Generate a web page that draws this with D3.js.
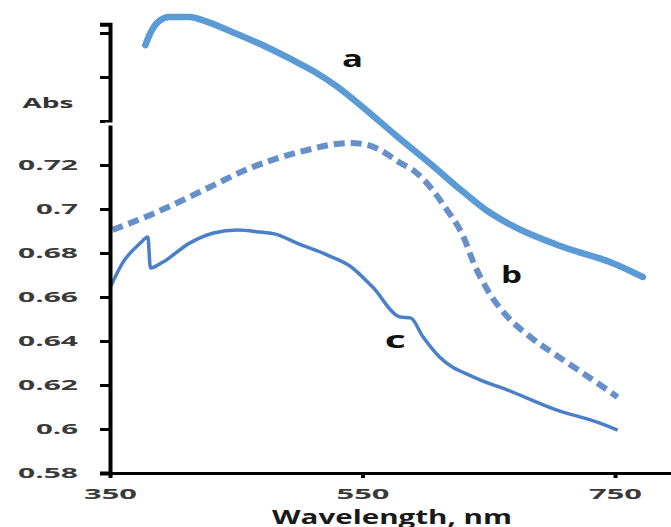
<!DOCTYPE html>
<html>
<head>
<meta charset="utf-8">
<script src="https://cdn.jsdelivr.net/npm/d3@7"></script>
<style>
  body { margin: 0; background: #fff; }
  svg { display: block; }
</style>
</head>
<body>
<svg id="chart" width="671" height="527"></svg>
<script>
// spectra (wavelength nm / absorbance)
var wl_a  = [378, 382, 388, 397, 413, 425, 445, 469, 493, 511, 528, 550, 577, 603, 630, 649, 669, 709, 746, 772];
var abs_a = [0.7745, 0.780, 0.785, 0.7873, 0.7873, 0.7855, 0.7809, 0.775, 0.7682, 0.7627, 0.7564, 0.7464, 0.7332, 0.7209, 0.7077, 0.6991, 0.6923, 0.6827, 0.6759, 0.6691];

var wl_b  = [352, 382, 421, 461, 500, 540, 554, 564, 580, 590, 617, 630, 638, 649, 665, 683, 709, 736, 752];
var abs_b = [0.6905, 0.6973, 0.7077, 0.7186, 0.7259, 0.730, 0.7291, 0.7268, 0.7209, 0.7177, 0.6995, 0.6873, 0.6755, 0.6632, 0.6509, 0.6418, 0.6314, 0.6209, 0.6145];

var wl_c  = [350, 360, 374, 380, 382, 392, 413, 432, 451, 469, 481, 498, 524, 540, 558, 580, 588, 598, 611, 638, 665, 704, 738, 752];
var abs_c = [0.6641, 0.6755, 0.6845, 0.6873, 0.6732, 0.6759, 0.6845, 0.6891, 0.6905, 0.6895, 0.6886, 0.6845, 0.6786, 0.6741, 0.6645, 0.6509, 0.6505, 0.6418, 0.6327, 0.6236, 0.6177, 0.6086, 0.6027, 0.5995];

var xTicks = [350, 550, 750];
var yTicks = [0.58, 0.6, 0.62, 0.64, 0.66, 0.68, 0.7, 0.72];
var yTicksUpper = [0.74, 0.76, 0.78];   // unlabeled, above the axis break

var curveLabels = [
  {t: "a", nm: 542, v: 0.7684},
  {t: "b", nm: 668, v: 0.6700},
  {t: "c", nm: 576, v: 0.6405}
];

var svg = d3.select("#chart");

var x = d3.scaleLinear().domain([350, 794]).range([110, 670.6]);
var y = d3.scaleLinear().domain([0.58, 0.784]).range([473, 24.2]);

function zip(w, v) { return w.map(function(d, i) { return [d, v[i]]; }); }

var line = d3.line()
  .x(function(d) { return x(d[0]); })
  .y(function(d) { return y(d[1]); })
  .curve(d3.curveMonotoneX);

// curves
svg.append("path").datum(zip(wl_a, abs_a))
  .attr("d", line).attr("fill", "none")
  .attr("stroke", "#5b9bd5").attr("stroke-width", 6.5)
  .attr("stroke-linejoin", "round").attr("stroke-linecap", "round");

svg.append("path").datum(zip(wl_b, abs_b))
  .attr("d", line).attr("fill", "none")
  .attr("stroke", "#6790ca").attr("stroke-width", 6)
  .attr("stroke-dasharray", "11,6");

svg.append("path").datum(zip(wl_c, abs_c))
  .attr("d", line).attr("fill", "none")
  .attr("stroke", "#4a80c8").attr("stroke-width", 3.5)
  .attr("stroke-linejoin", "round");

// axes
var font = "'Open Sans', 'DejaVu Sans', sans-serif";

var yAxis = svg.append("g").attr("transform", "translate(110,0)")
  .call(d3.axisLeft(y).tickValues(yTicks.concat(yTicksUpper)).tickSize(10).tickPadding(22)
    .tickFormat(function(d) { return d > 0.73 ? "" : String(+d.toFixed(2)); }));
yAxis.select(".domain").attr("stroke", "#000").attr("stroke-width", 4);
yAxis.selectAll(".tick line").attr("stroke", "#000").attr("stroke-width", 3);
yAxis.selectAll(".tick text")
  .attr("font-family", font).attr("font-weight", "bold").attr("font-size", 15)
  .attr("fill", "#3a3a3a")
  .attr("textLength", function(d) { return String(+d.toFixed(2)).length === 4 ? 60 : 42; })
  .attr("lengthAdjust", "spacingAndGlyphs");

// axis break
svg.append("rect").attr("x", 105).attr("y", 122.5).attr("width", 10).attr("height", 3).attr("fill", "#fff");

var xAxis = svg.append("g").attr("transform", "translate(0,473)")
  .call(d3.axisBottom(x).tickValues(xTicks).tickSize(5).tickPadding(10).tickSizeOuter(0));
xAxis.select(".domain").attr("stroke", "#000").attr("stroke-width", 3);
xAxis.selectAll(".tick line").attr("stroke", "#000").attr("stroke-width", 4);
xAxis.selectAll(".tick text")
  .attr("font-family", font).attr("font-weight", "bold").attr("font-size", 15)
  .attr("fill", "#3a3a3a")
  .attr("textLength", 53).attr("lengthAdjust", "spacingAndGlyphs");

// axis titles
svg.append("text").attr("x", 48).attr("y", 108)
  .attr("text-anchor", "middle")
  .attr("font-family", font).attr("font-weight", "bold").attr("font-size", 15)
  .attr("fill", "#333")
  .attr("textLength", 51).attr("lengthAdjust", "spacingAndGlyphs")
  .text("Abs");

svg.append("text").attr("x", 392).attr("y", 524)
  .attr("text-anchor", "middle")
  .attr("font-family", font).attr("font-weight", "bold").attr("font-size", 20)
  .attr("fill", "#1a1a1a")
  .attr("textLength", 240).attr("lengthAdjust", "spacingAndGlyphs")
  .text("Wavelength, nm");

// curve letters
svg.selectAll(".lbl").data(curveLabels).enter().append("text")
  .attr("class", "lbl")
  .attr("x", function(d) { return x(d.nm); })
  .attr("y", function(d) { return y(d.v); })
  .attr("dy", "0.35em")
  .attr("text-anchor", "middle")
  .attr("font-family", font).attr("font-weight", "bold").attr("font-size", 24)
  .attr("fill", "#111")
  .attr("textLength", 21).attr("lengthAdjust", "spacingAndGlyphs")
  .text(function(d) { return d.t; });
</script>
</body>
</html>
